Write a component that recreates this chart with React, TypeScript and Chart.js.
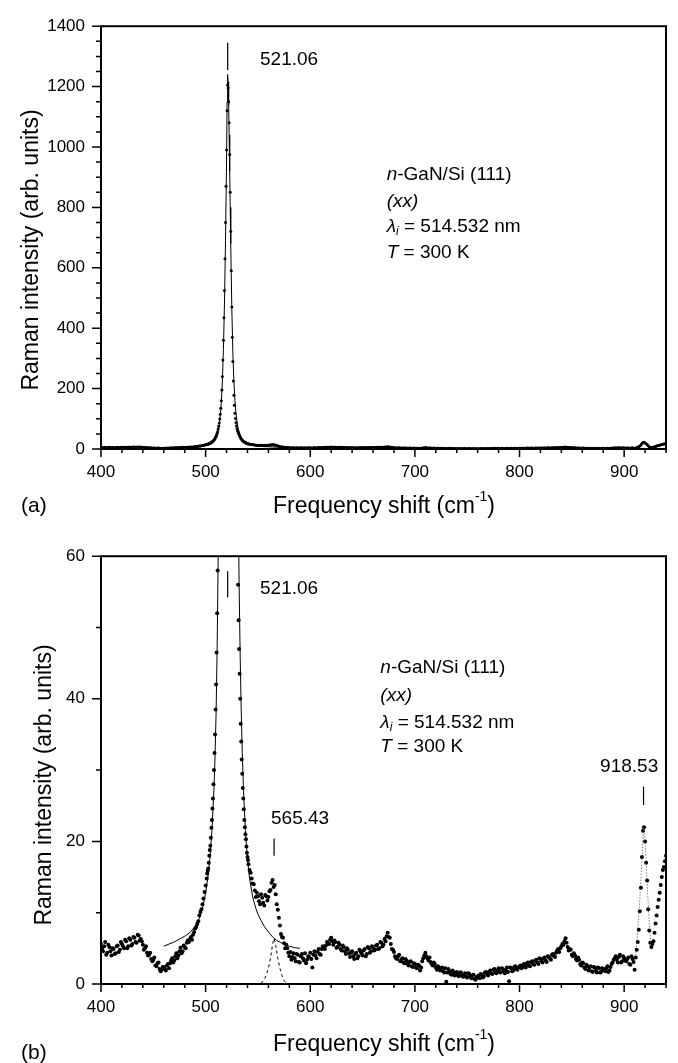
import React, { useEffect, useRef } from "react";
import { Chart, registerables } from "chart.js";

Chart.register(...registerables);

const FONT = '"Liberation Sans", Arial, Helvetica, sans-serif';

// ---------- data (Raman spectrum, n-GaN/Si(111)) ----------
// low-frequency side: 400 … 500 cm-1 (even channels)
const lowStart = 400;
const lowStep = 2;
const lowIntensity = [
  5.6, 4.6, 5.9, 4.4, 5.2, 4.0, 4.9, 4.3, 5.4, 4.8,
  5.6, 5.0, 6.0, 5.3, 6.2, 5.6, 6.5, 5.8, 6.8, 6.3,
  5.5, 5.0, 4.4, 4.1, 3.5, 3.4, 2.6, 2.9, 2.1, 2.0,
  2.4, 1.9, 2.8, 2.9, 3.6, 3.3, 4.3, 4.0, 5.1, 4.6,
  5.2, 5.8, 5.9, 6.6, 6.9, 7.8, 8.4, 9.6, 10.5, 12.0,
  13.8,
];
// low-frequency side: 401 … 499 cm-1 (odd channels)
const lowOddStart = 401;
const lowOddIntensity = [
  4.9, 5.3, 4.1, 5.5, 4.6, 5.0, 4.2, 5.3, 4.5, 5.9,
  5.3, 6.2, 5.0, 6.4, 5.4, 6.6, 5.9, 6.9, 6.1, 6.0,
  4.8, 5.3, 4.0, 4.4, 3.2, 3.7, 2.5, 3.0, 1.8, 2.4,
  2.1, 2.6, 2.2, 3.3, 3.0, 3.9, 3.6, 4.6, 4.3, 5.4,
  5.0, 6.1, 6.3, 6.2, 7.3, 8.0, 8.8, 10.1, 11.2, 12.9,
];

// Si peak region
const peakShift = [
  501, 502, 503, 504, 505, 506, 507, 508, 509, 510, 511, 512, 513, 514, 515,
  515.5, 516, 516.5, 517, 517.5, 518, 518.5, 519, 519.5, 520, 520.5, 521, 521.5,
  522, 522.5, 523, 523.5, 524, 524.5, 525, 525.5, 526, 526.5,
  527, 528, 529, 530, 531, 532, 533, 534, 535, 536, 537, 538, 539, 540,
];
const peakIntensity = [
  14.8, 15.9, 17.0, 18.8, 20.5, 23.0, 26.0, 30.0, 35.0, 42.0, 52, 66, 86, 115, 160,
  195, 240, 295, 360, 435, 525, 630, 750, 870, 990, 1120, 1205, 1195,
  1150, 1080, 975, 850, 720, 590, 470, 370, 290, 225,
  178, 118, 88, 68, 56, 47, 40, 34, 29.5, 26, 23, 21, 19.3, 17.8,
];
// Si peak flanks, intermediate channels
const flankShift = [
  501.5, 502.5, 503.5, 504.5, 505.5, 506.5, 507.5, 508.5, 509.5, 510.5, 511.5, 512.5, 513.5, 514.5,
  527.5, 528.5, 529.5, 530.5, 531.5, 532.5, 533.5, 534.5, 535.5, 536.5, 537.5, 538.5, 539.5, 540.5, 541,
];
const flankIntensity = [
  15.5, 16.2, 18.0, 19.4, 21.9, 24.6, 28.0, 32.4, 38.5, 46.5, 58, 75, 99, 135,
  145, 101, 77, 61, 51, 43.5, 36.5, 31.5, 27.5, 24.5, 22.0, 20.3, 18.4, 17.4, 16.8,
];

// high-frequency side: 542 … 940 cm-1 (even channels)
const highStart = 542;
const highStep = 2;
const highIntensity = [
  16.0, 14.8, 14.0, 12.2, 12.3, 11.2, 12.1, 11.0, 12.3, 12.2,
  13.2, 14.6, 13.9, 11.2, 9.3, 7.0, 6.5, 5.0, 5.0, 3.9,
  3.4, 4.3, 3.2, 4.1, 3.0, 4.2, 3.3, 2.9, 3.9, 4.4,
  2.3, 4.6, 3.6, 4.9, 4.1, 5.3, 4.9, 5.9, 5.6, 6.5,
  5.5, 5.9, 5.2, 5.5, 4.7, 5.2, 4.2, 4.8, 3.8, 4.6,
  3.5, 4.4, 3.9, 4.6, 4.0, 4.9, 4.2, 5.0, 4.6, 5.1,
  4.8, 5.5, 5.0, 5.8, 5.5, 6.0, 7.2, 6.5, 4.9, 4.5,
  3.6, 3.9, 3.2, 3.6, 2.9, 3.3, 2.6, 3.2, 2.4, 2.8,
  2.2, 2.6, 2.3, 3.6, 4.4, 3.6, 3.7, 2.8, 3.0, 2.3,
  2.5, 1.9, 2.3, 1.6, 0.3, 2.1, 1.4, 1.9, 1.2, 1.7,
  1.1, 1.6, 1.0, 1.5, 0.9, 1.4, 0.8, 1.3, 0.6, 0.9,
  0.8, 1.3, 1.1, 1.7, 1.2, 1.9, 1.4, 2.1, 1.5, 2.2,
  1.6, 2.1, 1.5, 2.3, 0.4, 2.2, 1.9, 2.5, 2.0, 2.5,
  2.2, 2.8, 2.3, 3.0, 2.5, 3.2, 2.7, 3.4, 2.8, 3.5,
  3.0, 3.7, 3.1, 3.8, 3.4, 4.2, 3.8, 4.7, 4.5, 5.3,
  5.5, 6.4, 5.2, 4.9, 4.1, 4.3, 3.5, 3.7, 2.8, 3.0,
  2.3, 2.7, 1.9, 2.5, 1.7, 2.3, 1.6, 2.2, 1.7, 2.1,
  1.8, 2.5, 1.9, 2.8, 3.4, 3.9, 3.0, 4.1, 3.2, 3.6,
  3.2, 3.7, 2.7, 3.5, 2.0, 4.8, 7.6, 13.5, 21.5, 20.0,
  14.5, 7.5, 5.2, 6.0, 8.5, 10.8, 12.8, 15.0, 16.4, 18.0,
];
// high-frequency side: 543 … 939 cm-1 (odd channels)
const highOddStart = 543;
const highOddIntensity = [
  15.6, 14.1, 13.1, 12.8, 11.6, 12.6, 11.4, 12.5, 11.7, 13.0,
  14.2, 13.6, 12.6, 10.4, 8.2, 6.6, 5.7, 5.5, 4.4, 4.5,
  3.8, 3.6, 4.2, 3.1, 3.9, 3.6, 4.3, 3.4, 3.8, 3.5,
  4.1, 4.0, 4.5, 4.2, 4.9, 5.2, 5.4, 5.7, 6.2, 6.0,
  6.1, 5.1, 5.8, 4.9, 5.4, 4.6, 5.0, 4.3, 4.4, 3.9,
  4.2, 3.6, 4.8, 4.3, 4.7, 3.9, 5.2, 4.4, 5.3, 4.7,
  5.4, 4.9, 5.9, 5.3, 6.3, 6.7, 6.6, 5.6, 4.8, 3.9,
  3.5, 4.1, 3.4, 3.0, 3.5, 2.8, 3.1, 2.5, 2.9, 2.3,
  2.7, 1.9, 3.2, 4.0, 3.9, 3.3, 3.1, 2.6, 2.8, 2.0,
  2.3, 2.1, 1.8, 2.2, 1.6, 1.8, 1.3, 1.6, 1.5, 1.2,
  1.6, 1.2, 1.3, 1.0, 1.5, 1.1, 1.2, 0.7, 1.0, 1.2,
  1.4, 0.9, 1.6, 1.4, 1.7, 1.5, 2.0, 1.6, 1.9, 1.7,
  2.2, 1.8, 2.0, 1.7, 2.3, 1.8, 2.4, 2.1, 2.3, 2.6,
  2.4, 2.6, 2.9, 2.6, 3.1, 2.8, 3.3, 3.0, 3.6, 3.2,
  3.6, 3.3, 3.9, 3.6, 4.1, 3.9, 4.4, 4.9, 5.0, 5.6,
  6.0, 5.8, 4.7, 4.8, 3.9, 4.0, 3.3, 3.4, 2.6, 2.9,
  2.1, 2.5, 2.3, 1.8, 2.4, 1.9, 2.3, 1.6, 2.2, 2.0,
  2.2, 1.7, 2.4, 3.0, 3.6, 3.4, 3.8, 3.0, 3.9, 3.3,
  3.5, 2.8, 3.9, 3.1, 3.7, 5.9, 10.2, 17.8, 22.0, 17.0,
  10.5, 5.8, 5.6, 7.2, 9.6, 11.8, 13.9, 16.0, 17.2,
];

// Lorentzian fit of the Si line (solid)
const fitShift = [
  460, 465, 470, 475, 480, 485, 490, 494, 497, 500, 502, 504, 506, 508,
  509, 510, 511, 512, 513, 514, 515, 516, 517, 518, 519, 520,
  520.5, 521, 521.5, 522, 522.5, 523, 523.5, 524,
  525, 526, 527, 528, 529, 530, 531, 532, 533, 534, 535, 536,
  538, 540, 542, 545, 548, 550, 553, 556, 560, 564, 568, 572, 576, 580, 585, 590,
];
const fitIntensity = [
  5.3, 5.6, 5.9, 6.3, 6.7, 7.2, 8.1, 9.2, 10.6, 12.8, 14.8, 17.5, 21.5, 27.5,
  32, 38, 47, 60, 80, 110, 155, 225, 330, 480, 690, 950,
  1150, 1240, 1215, 1140, 1040, 920, 800, 680,
  470, 320, 225, 160, 118, 90, 70, 56, 46, 38.5, 32.5, 28,
  21.5, 17.5, 14.8, 12.2, 10.6, 9.8, 8.9, 8.1, 7.3, 6.6, 6.1, 5.8, 5.5, 5.3, 5.1, 5.0,
];

// weak 565 cm-1 component (dashed)
const weakShift = [553, 556, 558, 560, 562, 564, 565.4, 567, 569, 571, 573, 575, 577];
const weakIntensity = [0.1, 0.6, 1.3, 2.2, 3.6, 5.6, 6.4, 5.4, 3.6, 2.2, 1.2, 0.5, 0.1];

// 918 cm-1 line (dotted)
const line918Shift = [911, 913, 915, 917, 918.5, 920, 922, 924, 925.5];
const line918Intensity = [4.0, 7.5, 12.0, 17.5, 22.0, 20.0, 14.0, 8.5, 5.2];

// tick labels
const xTickValues = [400, 500, 600, 700, 800, 900];
const topYTickValues = [0, 200, 400, 600, 800, 1000, 1200, 1400];
const bottomYTickValues = [0, 20, 40, 60];

// ---------- helpers ----------
type Pt = { x: number; y: number };
const pairs = (xs: number[], ys: number[]): Pt[] => ys.map((y, i) => ({ x: xs[i], y }));
const even = (start: number, step: number, ys: number[]): Pt[] =>
  ys.map((y, i) => ({ x: start + i * step, y }));

const spectrum: Pt[] = [
  ...even(lowStart, lowStep, lowIntensity),
  ...even(lowOddStart, lowStep, lowOddIntensity),
  ...pairs(peakShift, peakIntensity),
  ...pairs(flankShift, flankIntensity),
  ...even(highStart, highStep, highIntensity),
  ...even(highOddStart, highStep, highOddIntensity),
];

type Seg = { t: string; it?: boolean; sub?: boolean; sup?: boolean };

function drawRuns(
  ctx: CanvasRenderingContext2D,
  segs: Seg[],
  x: number,
  y: number,
  size: number,
  align: "left" | "center" = "left"
) {
  const parts = segs.map((s) => {
    const fs = s.sub || s.sup ? Math.round(size * 0.62) : size;
    const font = `${s.it ? "italic " : ""}${fs}px ${FONT}`;
    ctx.font = font;
    return { s, font, w: ctx.measureText(s.t).width };
  });
  const total = parts.reduce((a, p) => a + p.w, 0);
  let cx = align === "center" ? x - total / 2 : x;
  ctx.textAlign = "left";
  ctx.textBaseline = "middle";
  for (const p of parts) {
    ctx.font = p.font;
    const dy = p.s.sub ? size * 0.3 : p.s.sup ? -size * 0.42 : 0;
    ctx.fillText(p.s.t, cx, y + dy);
    cx += p.w;
  }
}

const infoLines: Seg[][] = [
  [{ t: "n", it: true }, { t: "-GaN/Si (111)" }],
  [{ t: "(xx)", it: true }],
  [{ t: "λ", it: true }, { t: "i", it: true, sub: true }, { t: " = 514.532 nm" }],
  [{ t: "T", it: true }, { t: " = 300 K" }],
];
const xTitle: Seg[] = [{ t: "Frequency shift (cm" }, { t: "-1", sup: true }, { t: ")" }];
const yTitle: Seg[] = [{ t: "Raman intensity (arb. units)" }];

type Spec = {
  height: number;
  padTop: number;
  xAxisHeight: number;
  yMax: number;
  yTicks: number[];
  yMajor: number;
  yMinor: number;
  datasets: any[];
  markers: { x: number; y1: number; y2: number }[];
  labels: { text: string; x: number; y: number }[];
  info: { x: number; ys: number[] };
  yTitlePos: { x: number; y: number };
  xTitlePos: { x: number; y: number };
  panel: { text: string; x: number; y: number };
};

function makeDecor(spec: Spec) {
  return {
    id: "decor",
    afterDraw(chart: any) {
      const { ctx, chartArea: a, scales } = chart;
      const xs = scales.x;
      const ys = scales.y;
      ctx.save();
      ctx.strokeStyle = "#000";
      ctx.fillStyle = "#000";
      // frame
      ctx.lineWidth = 2;
      ctx.strokeRect(a.left, a.top, a.right - a.left, a.bottom - a.top);
      // ticks
      ctx.lineWidth = 1.5;
      ctx.beginPath();
      for (let v = 400; v <= 940 + 1e-6; v += 20) {
        const px = xs.getPixelForValue(v);
        const major = v % 100 === 0;
        ctx.moveTo(px, a.bottom);
        ctx.lineTo(px, a.bottom + (major ? 8 : 4));
      }
      for (let v = 0; v <= spec.yMax + 1e-6; v += spec.yMinor) {
        const py = ys.getPixelForValue(v);
        const major = Math.abs(v % spec.yMajor) < 1e-6;
        ctx.moveTo(a.left, py);
        ctx.lineTo(a.left - (major ? 9 : 5), py);
      }
      ctx.stroke();
      // peak markers
      ctx.lineWidth = 1.2;
      ctx.beginPath();
      for (const m of spec.markers) {
        const px = xs.getPixelForValue(m.x);
        ctx.moveTo(px, ys.getPixelForValue(m.y1));
        ctx.lineTo(px, ys.getPixelForValue(m.y2));
      }
      ctx.stroke();
      // peak labels
      for (const l of spec.labels) {
        drawRuns(ctx, [{ t: l.text }], xs.getPixelForValue(l.x), ys.getPixelForValue(l.y), 19);
      }
      // sample info
      spec.info.ys.forEach((v, i) => {
        drawRuns(ctx, infoLines[i], xs.getPixelForValue(spec.info.x), ys.getPixelForValue(v), 19);
      });
      // axis titles
      drawRuns(ctx, xTitle, spec.xTitlePos.x, spec.xTitlePos.y, 23, "center");
      ctx.save();
      ctx.translate(spec.yTitlePos.x, spec.yTitlePos.y);
      ctx.rotate(-Math.PI / 2);
      drawRuns(ctx, yTitle, 0, 0, 23, "center");
      ctx.restore();
      // panel label
      drawRuns(ctx, [{ t: spec.panel.text }], spec.panel.x, spec.panel.y, 21);
      ctx.restore();
    },
  };
}

const dots = (data: Pt[], r: number) => ({
  data,
  showLine: false,
  pointRadius: r,
  pointBorderWidth: 0,
  pointBackgroundColor: "#000",
  pointBorderColor: "#000",
  order: 2,
});
const curve = (data: Pt[], dash: number[], color = "#000", width = 1) => ({
  data,
  showLine: true,
  pointRadius: 0,
  borderColor: color,
  borderWidth: width,
  borderDash: dash,
  fill: false,
  tension: 0,
  order: 1,
});

const fitData = pairs(fitShift, fitIntensity);

const topSpec: Spec = {
  height: 530,
  padTop: 16,
  xAxisHeight: 81,
  yMax: 1400,
  yTicks: topYTickValues,
  yMajor: 200,
  yMinor: 50,
  datasets: [dots(spectrum, 1.5), curve(fitData, [])],
  markers: [{ x: 521.06, y1: 1255, y2: 1345 }],
  labels: [{ text: "521.06", x: 552, y: 1290 }],
  info: { x: 673, ys: [908, 818, 737, 650] },
  yTitlePos: { x: 32, y: 250 },
  xTitlePos: { x: 384, y: 507 },
  panel: { text: "(a)", x: 21, y: 506 },
};

const bottomSpec: Spec = {
  height: 533,
  padTop: 23,
  xAxisHeight: 79,
  yMax: 60,
  yTicks: bottomYTickValues,
  yMajor: 20,
  yMinor: 10,
  datasets: [
    dots(spectrum, 2),
    curve(fitData, []),
    curve(pairs(weakShift, weakIntensity), [3, 3]),
    curve(pairs(line918Shift, line918Intensity), [1, 2], "#444"),
  ],
  markers: [
    { x: 521.06, y1: 54.2, y2: 57.9 },
    { x: 565.43, y1: 18.0, y2: 20.4 },
    { x: 918.53, y1: 25.1, y2: 27.7 },
  ],
  labels: [
    { text: "521.06", x: 552, y: 55.4 },
    { text: "565.43", x: 562.5, y: 23.2 },
    { text: "918.53", x: 877, y: 30.5 },
  ],
  info: { x: 667, ys: [44.3, 40.5, 36.7, 33.3] },
  yTitlePos: { x: 45, y: 255 },
  xTitlePos: { x: 384, y: 515 },
  panel: { text: "(b)", x: 21, y: 523 },
};

function buildConfig(spec: Spec): any {
  return {
    type: "scatter",
    data: { datasets: spec.datasets },
    plugins: [makeDecor(spec)],
    options: {
      animation: false,
      responsive: false,
      devicePixelRatio: 1,
      events: [],
      layout: { padding: { left: 0, right: 12, top: spec.padTop, bottom: 0 } },
      plugins: { legend: { display: false }, tooltip: { enabled: false } },
      scales: {
        x: {
          type: "linear",
          min: 400,
          max: 940,
          afterBuildTicks: (s: any) => {
            s.ticks = xTickValues.map((value) => ({ value }));
          },
          afterFit: (s: any) => {
            s.height = spec.xAxisHeight;
          },
          ticks: {
            autoSkip: false,
            maxRotation: 0,
            padding: 13,
            color: "#000",
            font: { family: FONT, size: 17 },
            callback: (v: number) => String(v),
          },
          grid: { display: false, drawTicks: false },
          border: { display: false },
        },
        y: {
          type: "linear",
          min: 0,
          max: spec.yMax,
          afterBuildTicks: (s: any) => {
            s.ticks = spec.yTicks.map((value) => ({ value }));
          },
          afterFit: (s: any) => {
            s.width = 101;
          },
          ticks: {
            autoSkip: false,
            padding: 16,
            color: "#000",
            font: { family: FONT, size: 17 },
            callback: (v: number) => String(v),
          },
          grid: { display: false, drawTicks: false },
          border: { display: false },
        },
      },
    },
  };
}

function Panel({ spec, top }: { spec: Spec; top: number }) {
  const ref = useRef<HTMLCanvasElement>(null);
  useEffect(() => {
    const chart = new Chart(ref.current as HTMLCanvasElement, buildConfig(spec));
    return () => chart.destroy();
  }, [spec]);
  return (
    <canvas
      ref={ref}
      width={678}
      height={spec.height}
      style={{ position: "absolute", left: 0, top, width: 678, height: spec.height }}
    />
  );
}

export default function App() {
  return (
    <div
      style={{
        position: "absolute",
        left: 0,
        top: 0,
        width: 678,
        height: 1063,
        background: "#fff",
        overflow: "hidden",
      }}
    >
      <Panel spec={topSpec} top={0} />
      <Panel spec={bottomSpec} top={530} />
    </div>
  );
}
